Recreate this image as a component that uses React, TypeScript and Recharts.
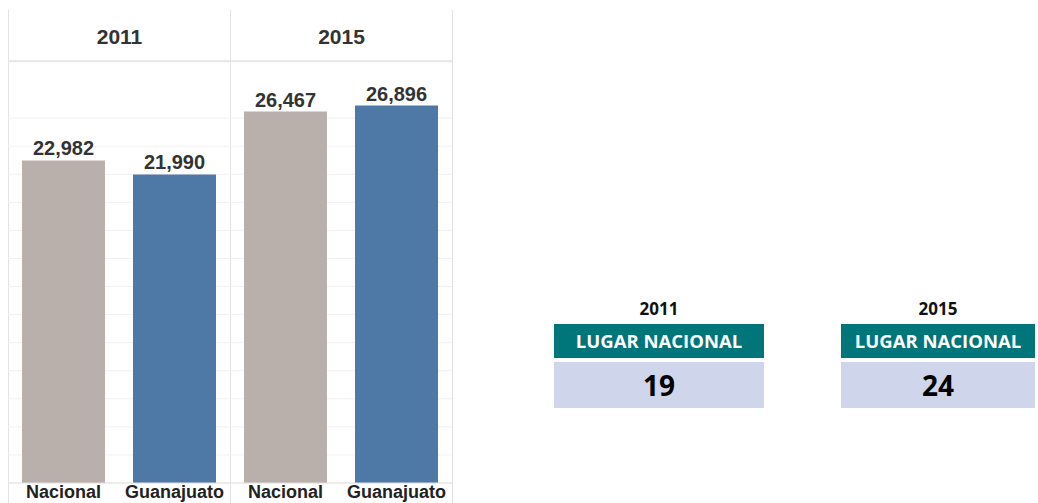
import React from 'react';
import { BarChart, Bar, XAxis, YAxis, CartesianGrid, LabelList, Cell } from 'recharts';

const years = ['2011', '2015'];
const categories = ['Nacional', 'Guanajuato'];
const nacional = [22982, 26467];
const guanajuato = [21990, 26896];
const lugarNacional = [19, 24];
const yTicks = [0, 2000, 4000, 6000, 8000, 10000, 12000, 14000, 16000, 18000, 20000, 22000, 24000, 26000, 28000, 30000];

const barColors = ['#bab0ab', '#4e79a7'];
const chartFont = '"Liberation Sans", Arial, sans-serif';
const boxFont = '"Open Sans", "Noto Sans", sans-serif';

const fmt = (v: any) => Number(v).toLocaleString('en-US');

// category label under each bar, kept just inside the bottom edge
const CategoryTick = (props: any) => {
    const { x, y, payload } = props;
    return (
        <text x={x} y={y} dy={9} textAnchor="middle" fontSize={18} fontWeight="bold" fill="#222" fontFamily={chartFont}>
            {payload.value}
        </text>
    );
};

const Panel: React.FC<{ index: number; left: number }> = ({ index, left }) => {
    const data = categories.map((name, i) => ({
        name,
        value: i === 0 ? nacional[index] : guanajuato[index],
    }));

    return (
        <div style={{ position: 'absolute', left, top: 10, width: 222, height: 493, borderLeft: '1px solid #e2e2e2', boxSizing: 'border-box' }}>
            <div style={{
                height: 52, paddingTop: 3, borderBottom: '2px solid #e8e8e8', boxSizing: 'border-box',
                display: 'flex', alignItems: 'center', justifyContent: 'center',
                fontFamily: chartFont, fontWeight: 'bold', fontSize: 21, color: '#333',
            }}>
                {years[index]}
            </div>
            <div style={{ position: 'absolute', left: -1, top: 52 }}>
                <BarChart width={222} height={441} data={data} margin={{ top: 0, right: 0, bottom: 0, left: 0 }} barCategoryGap={14}>
                    <CartesianGrid vertical={false} stroke="#f1f1f1" />
                    <YAxis hide domain={[0, 30000]} ticks={yTicks} />
                    <XAxis
                        dataKey="name"
                        interval={0}
                        tickLine={false}
                        axisLine={{ stroke: '#e2e2e2' }}
                        height={20}
                        tickMargin={0}
                        tick={<CategoryTick />}
                    />
                    <Bar dataKey="value" isAnimationActive={false}>
                        {data.map((d, i) => <Cell key={d.name} fill={barColors[i]} />)}
                        <LabelList dataKey="value" position="top" offset={5} formatter={fmt}
                            style={{ fontSize: 20, fontWeight: 'bold', fill: '#333', fontFamily: chartFont }} />
                    </Bar>
                </BarChart>
            </div>
        </div>
    );
};

const RankBox: React.FC<{ index: number; left: number; width: number }> = ({ index, left, width }) => (
    <div style={{ position: 'absolute', left, top: 296, width, fontFamily: boxFont }}>
        <div style={{ height: 26, textAlign: 'center', fontWeight: 'bold', fontSize: 17, color: '#111', lineHeight: '26px' }}>
            {years[index]}
        </div>
        <div style={{ marginTop: 2, height: 34, background: '#00757a', color: '#fff', textAlign: 'center', fontWeight: 'bold', fontSize: 18.5, lineHeight: '34px' }}>
            LUGAR NACIONAL
        </div>
        <div style={{ marginTop: 4, height: 46, background: '#cfd5ea', color: '#000', textAlign: 'center', fontWeight: 'bold', fontSize: 28, lineHeight: '46px' }}>
            {lugarNacional[index]}
        </div>
    </div>
);

export default function App() {
    return (
        <div style={{ position: 'absolute', left: 0, top: 0, width: 1038, height: 503, overflow: 'hidden', background: '#fff' }}>
            <Panel index={0} left={8} />
            <Panel index={1} left={230} />
            <div style={{ position: 'absolute', left: 452, top: 10, width: 1, height: 493, background: '#e2e2e2' }} />
            <RankBox index={0} left={554} width={210} />
            <RankBox index={1} left={841} width={194} />
        </div>
    );
}
